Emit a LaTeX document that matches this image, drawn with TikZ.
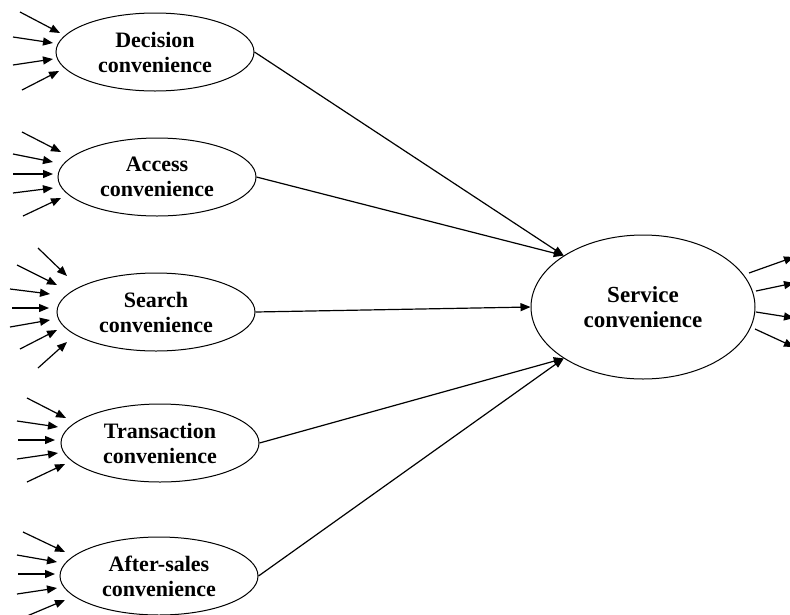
\documentclass[tikz,border=0pt]{standalone}
\usepackage{fontspec}
\setmainfont{Liberation Serif}
\usetikzlibrary{arrows.meta,shapes.geometric}
\begin{document}
\begin{tikzpicture}[x=1pt,y=-1pt,
  latent/.style={draw,ellipse,line width=1pt,inner sep=0pt,align=center,
    minimum width=198pt,minimum height=78pt,
    font=\fontsize{22}{25}\selectfont\bfseries},
  bigl/.style={latent,minimum width=224pt,minimum height=144pt,
    font=\fontsize{23}{25}\selectfont\bfseries},
  link/.style={line width=1.2pt,-{Triangle[length=10pt,width=8pt]}}
]
\useasboundingbox (0,0) rectangle (790,614);
\node[latent] (dec) at (155,52) {Decision\\convenience};
\node[latent] (acc) at (157,177) {Access\\convenience};
\node[latent] (sea) at (156,312) {Search\\convenience};
\node[latent] (tra) at (160,443) {Transaction\\convenience};
\node[latent] (aft) at (159,576) {After-sales\\convenience};
\node[bigl] (svc) at (643,307) {Service\\convenience};

\draw[link] (dec.east) -- (svc.147);
\draw[link] (acc.east) -- (svc.147);
\draw[link] (sea.east) -- (svc.west);
\draw[link] (tra.east) -- (svc.213);
\draw[link] (aft.east) -- (svc.213);

% indicator arrows
\foreach \a/\b/\c/\d in {-135/-40/-95/-19,-142/-15/-102/-9,-142/13/-102/7,-133/38/-96/19}
  \draw[link] ([shift={(\a,\b)}]dec.center) -- ([shift={(\c,\d)}]dec.center);
\foreach \a/\b/\c/\d in {-135/-45/-96/-25,-144/-23/-104/-15,-144/-3/-104/-3,-144/16/-104/11,-134/39/-96/21}
  \draw[link] ([shift={(\a,\b)}]acc.center) -- ([shift={(\c,\d)}]acc.center);
\foreach \a/\b/\c/\d in {-118/-64/-89/-36,-139/-47/-99/-27,-146/-23/-106/-18,-144/-4/-107/-4,-146/15/-106/8,-136/37/-99/18,-118/56/-89/30}
  \draw[link] ([shift={(\a,\b)}]sea.center) -- ([shift={(\c,\d)}]sea.center);
\foreach \a/\b/\c/\d in {-133/-45/-94/-25,-143/-22/-102/-16,-142/-3/-105/-3,-143/16/-102/10,-133/39/-95/21}
  \draw[link] ([shift={(\a,\b)}]tra.center) -- ([shift={(\c,\d)}]tra.center);
\foreach \a/\b/\c/\d in {-136/-44/-94/-24,-142/-21/-102/-14,-141/-2/-104/-2,-142/18/-102/12,-132/40/-94/24}
  \draw[link] ([shift={(\a,\b)}]aft.center) -- ([shift={(\c,\d)}]aft.center);
\foreach \a/\b/\c/\d in {106/-34/151/-50,113/-16/151/-24,113/5/151/11,112/22/151/40}
  \draw[link] ([shift={(\a,\b)}]svc.center) -- ([shift={(\c,\d)}]svc.center);
\end{tikzpicture}
\end{document}
